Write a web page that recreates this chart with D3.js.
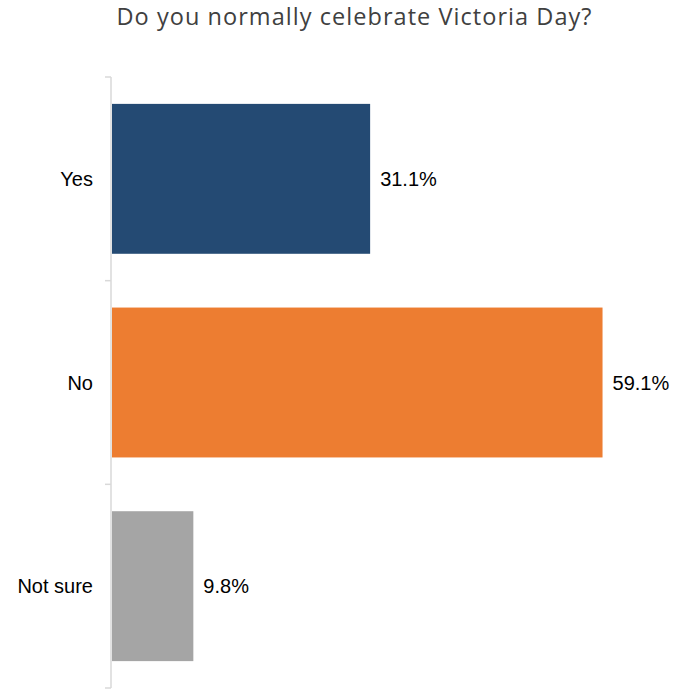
<!DOCTYPE html>
<html lang="en">
<head>
<meta charset="utf-8">
<script src="https://cdnjs.cloudflare.com/ajax/libs/d3/7.8.5/d3.min.js"></script>
<style>
  body { margin: 0; background: #fff; }
  .cat { font-family: "Liberation Sans", Arial, sans-serif; font-size: 20px; fill: #000; }
  .val { font-family: "Liberation Sans", Arial, sans-serif; font-size: 20px; fill: #000; }
  .title { font-family: "Open Sans", "Noto Sans", sans-serif; font-size: 23.5px; fill: #404040; }
</style>
</head>
<body>
<svg id="chart" width="685" height="691"></svg>
<script>
const title = "Do you normally celebrate Victoria Day?";
const categories = ["Yes", "No", "Not sure"];
const values = [31.1, 59.1, 9.8];
const colors = ["#244a73", "#ed7d31", "#a5a5a5"];

const svg = d3.select("#chart");
const margin = {left: 111, top: 77, bottom: 688};

let x = d3.scaleLinear()
  .domain([0, 60])
  .range([margin.left, 609]);
let y = d3.scaleBand()
  .domain(categories)
  .range([margin.top, margin.bottom])
  .paddingInner(0.264)
  .paddingOuter(0.132);

// title
svg.append("text")
  .attr("class", "title")
  .attr("x", 354)
  .attr("y", 25)
  .attr("text-anchor", "middle")
  .attr("textLength", 475)
  .text(title);

// bars
svg.selectAll("rect.bar")
  .data(values).enter()
  .append("rect")
  .attr("class", "bar")
  .attr("x", x(0) + 1)
  .attr("y", (d, i) => y(categories[i]))
  .attr("width", d => x(d) - x(0))
  .attr("height", y.bandwidth())
  .attr("fill", (d, i) => colors[i]);

// value labels
svg.selectAll("text.val")
  .data(values).enter()
  .append("text")
  .attr("class", "val")
  .attr("x", d => x(d) + 11)
  .attr("y", (d, i) => y(categories[i]) + y.bandwidth() / 2)
  .attr("dy", "0.35em")
  .text(d => d.toFixed(1) + "%");

// category axis: lines between bands
let bounds = categories.map(c => y(c) - y.step() * y.paddingInner() / 2);
bounds.push(margin.bottom);
svg.append("line")
  .attr("x1", x(0)).attr("x2", x(0))
  .attr("y1", margin.top).attr("y2", margin.bottom)
  .attr("stroke", "#d9d9d9").attr("stroke-width", 1.5);
svg.selectAll("line.tick")
  .data(bounds).enter()
  .append("line")
  .attr("class", "tick")
  .attr("x1", x(0) - 6).attr("x2", x(0))
  .attr("y1", d => d).attr("y2", d => d)
  .attr("stroke", "#d9d9d9").attr("stroke-width", 1.5);

svg.selectAll("text.cat")
  .data(categories).enter()
  .append("text")
  .attr("class", "cat")
  .attr("x", 93)
  .attr("y", d => y(d) + y.bandwidth() / 2)
  .attr("dy", "0.35em")
  .attr("text-anchor", "end")
  .text(d => d);
</script>
</body>
</html>
